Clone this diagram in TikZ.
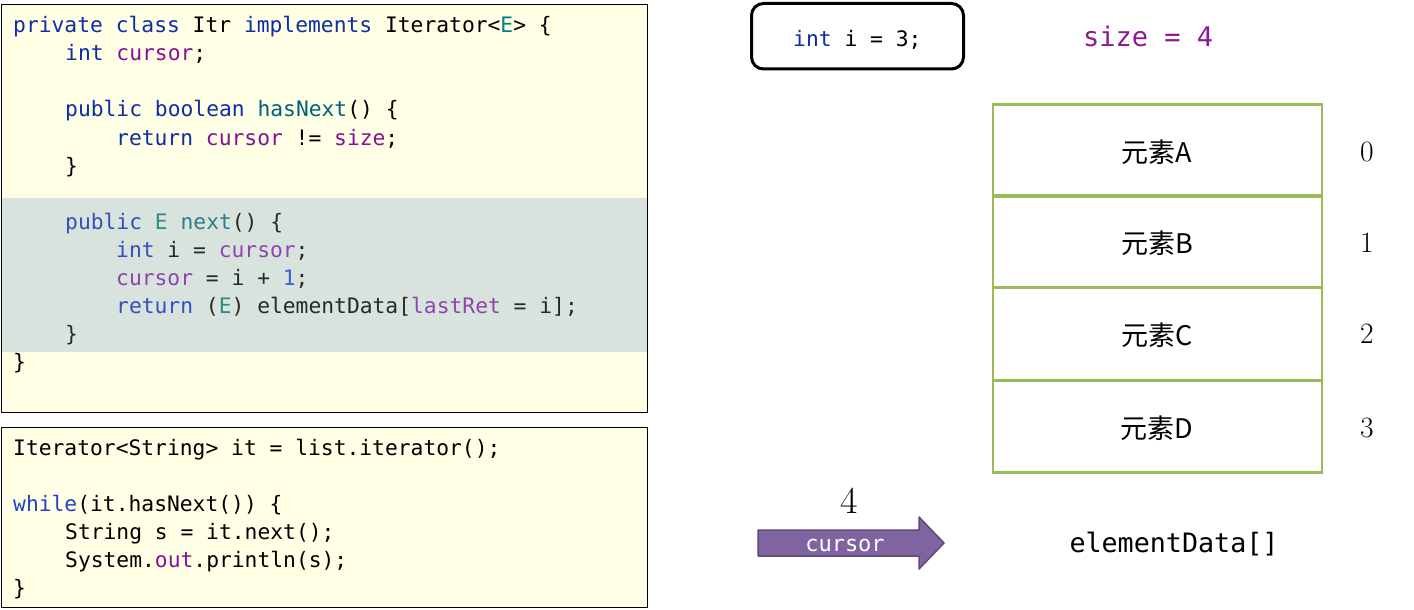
\documentclass[tikz,border=0pt]{standalone}
\usepackage{fontspec}
\setmonofont{DejaVu Sans Mono}
\newfontfamily\cjk{Noto Sans CJK SC}
\definecolor{codebg}{RGB}{255,255,229}
\definecolor{hlbg}{RGB}{217,227,222}
\definecolor{kwc}{RGB}{15,45,165}
\definecolor{fdc}{RGB}{135,16,148}
\definecolor{mtc}{RGB}{0,98,122}
\definecolor{tpc}{RGB}{0,128,128}
\definecolor{hkw}{RGB}{50,80,190}
\definecolor{hfd}{RGB}{142,68,173}
\definecolor{hmt}{RGB}{46,125,143}
\definecolor{htp}{RGB}{46,139,139}
\definecolor{hnum}{RGB}{50,100,220}
\definecolor{hpl}{RGB}{40,40,40}
\definecolor{wkw}{RGB}{35,65,200}
\definecolor{sizec}{RGB}{140,25,150}
\definecolor{arrgreen}{RGB}{155,187,89}
\definecolor{arrfill}{RGB}{128,100,162}
\definecolor{arrdraw}{RGB}{94,73,120}
\newcommand\jkw[1]{\textcolor{kwc}{#1}}
\newcommand\jfd[1]{\textcolor{fdc}{#1}}
\newcommand\jmt[1]{\textcolor{mtc}{#1}}
\newcommand\jtp[1]{\textcolor{tpc}{#1}}
\tikzset{
  codeline/.style={anchor=base west, inner sep=0pt, font=\ttfamily\fontsize{21.3}{24}\selectfont, text=black},
  hlline/.style={codeline, text=hpl},
  codebox/.style={draw=black, line width=0.8pt, fill=codebg},
  cell/.style={draw=arrgreen, line width=2.6pt, minimum width=329pt, minimum height=92pt, inner sep=0pt},
  celltext/.style={anchor=base, inner sep=0pt, font=\cjk\fontsize{27}{30}\selectfont},
  idx/.style={anchor=base, inner sep=0pt, font=\fontsize{29.5}{32}\selectfont},
}
\begin{document}
\begin{tikzpicture}[x=1pt,y=-1pt]
\useasboundingbox (0,0) rectangle (1414,610);
% code box 1
\draw[codebox] (1,4) rectangle (647,412);
\fill[hlbg] (1.5,198) rectangle (646.5,352);
\node[codeline] (l1) at (13,33) {\jkw{private} \jkw{class} Itr \jkw{implements} Iterator<\jtp{E}> \{};
\node[codeline] (l2) at (65,61) {\jkw{int} \jfd{cursor};};
\node[codeline] (l4) at (65,117) {\jkw{public} \jkw{boolean} \jmt{hasNext}() \{};
\node[codeline] (l5) at (116,145) {\jkw{return} \jfd{cursor} != \jfd{size};};
\node[codeline] (l6) at (65,173) {\}};
\node[hlline] (l8) at (65,229) {\textcolor{hkw}{public} \textcolor{htp}{E} \textcolor{hmt}{next}() \{};
\node[hlline] (l9) at (116,257) {\textcolor{hkw}{int} i = \textcolor{hfd}{cursor};};
\node[hlline] (l10) at (116,285) {\textcolor{hfd}{cursor} = i + \textcolor{hnum}{1};};
\node[hlline] (l11) at (116,313) {\textcolor{hkw}{return} (\textcolor{htp}{E}) elementData[\textcolor{hfd}{lastRet} = i];};
\node[hlline] (l12) at (65,341) {\}};
\node[codeline] (l13) at (13,369) {\}};
% code box 2
\draw[codebox] (1,427) rectangle (647,607);
\node[codeline] (m1) at (13,455) {Iterator<String> it = list.iterator();};
\node[codeline] (m3) at (13,511) {\textcolor{wkw}{while}(it.hasNext()) \{};
\node[codeline] (m4) at (65,539) {String s = it.next();};
\node[codeline] (m5) at (65,567) {System.\jfd{out}.println(s);};
\node[codeline] (m6) at (13,595) {\}};
% int i = 3 box
\draw[line width=3pt, rounded corners=12pt] (751.5,3.5) rectangle (963.5,69);
\node[codeline] (ivar) at (793,47) {\jkw{int} i = 3;};
% size
\node[codeline, font=\ttfamily\fontsize{27}{30}\selectfont, text=sizec] (size) at (1083,47) {size = 4};
% array cells
\node[cell] (c0) at (1157.5,150.5) {};
\node[cell] (c1) at (1157.5,241.5) {};
\node[cell] (c2) at (1157.5,334) {};
\node[cell] (c3) at (1157.5,426.5) {};
\node[celltext] (t0) at (1157,162) {元素A};
\node[celltext] (t1) at (1157,253) {元素B};
\node[celltext] (t2) at (1157,345) {元素C};
\node[celltext] (t3) at (1157,438) {元素D};
\node[idx] (i0) at (1367,161) {0};
\node[idx] (i1) at (1367,252) {1};
\node[idx] (i2) at (1367,343) {2};
\node[idx] (i3) at (1367,437) {3};
% element data label
\node[anchor=base, inner sep=0pt, font=\ttfamily\fontsize{26.7}{30}\selectfont] (ed) at (1174,552) {elementData[]};
% cursor arrow
\draw[fill=arrfill, draw=arrdraw, line width=1.5pt, line join=round]
  (758,530) -- (919,530) -- (919,517) -- (944,543) -- (919,569) -- (919,556) -- (758,556) -- cycle;
\node[anchor=base, inner sep=0pt, text=white, font=\ttfamily\fontsize{22}{24}\selectfont] (cur) at (845,551) {cursor};
\node[anchor=base, inner sep=0pt, font=\fontsize{38}{40}\selectfont] (four) at (849,513) {4};
\end{tikzpicture}
\end{document}
